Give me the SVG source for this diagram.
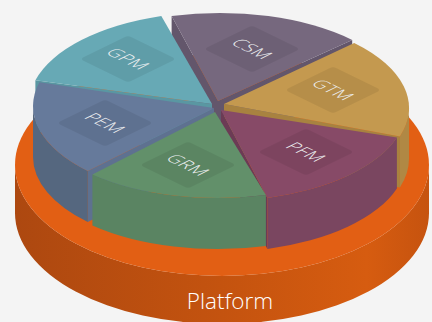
<svg xmlns="http://www.w3.org/2000/svg" width="432" height="322" viewBox="0 0 432 322">
  <defs>
    <linearGradient id="orangeSide" x1="0" y1="0" x2="1" y2="0">
      <stop offset="0" stop-color="#ad4810"/>
      <stop offset="0.5" stop-color="#c4530f"/>
      <stop offset="0.85" stop-color="#d65c10"/>
      <stop offset="1" stop-color="#c6530f"/>
    </linearGradient>
    <style>
      .lbl { font-family: "Open Sans", "Lato", sans-serif; font-weight: 300; font-size: 22.5px; letter-spacing: 0.5px; fill: #eef0f2; text-anchor: middle; }
      .panel { fill: #000; fill-opacity: 0.07; }
    </style>
  </defs>
  <rect width="432" height="322" fill="#f4f4f4"/>

  <g id="platform">
    <path d="M15 165 A207 111 0 0 0 429 165 L429 213 A207 111 0 0 1 15 213 Z" fill="url(#orangeSide)"/>
    <ellipse cx="222" cy="165" rx="207" ry="111" fill="#e25f14"/>
    <text x="230" y="309" font-family="'Open Sans', 'Lato', sans-serif" font-weight="300" font-size="22.5" fill="#ffffff" text-anchor="middle">Platform</text>
  </g>

  <g id="slice-csm">
    <path d="M218 101 L171.6 16.1 L171.6 67.1 L218 152 Z" fill="#63566b"/>
    <path d="M218 101 L352.2 39.9 L352.2 90.9 L218 152 Z" fill="#63566b"/>
    <path d="M218 101 L171.6 16.1 A187 92 0 0 1 352.2 39.9 Z" fill="#76687e"/>
    <g transform="matrix(0.707 0.346 -0.707 0.346 252 49)">
      <rect class="panel" x="-34" y="-34" width="68" height="68" rx="5"/>
      <text class="lbl" x="0" y="8">CSM</text>
    </g>
  </g>

  <g id="slice-gpm">
    <path d="M212 104 L35.4 80.2 L35.4 131.2 L212 155 Z" fill="#5a97a2"/>
    <path d="M212 104 L35.4 80.2 A187 92 0 0 1 161.3 16 Z" fill="#67a9b5"/>
    <g transform="matrix(0.707 0.346 -0.707 0.346 128 59)">
      <rect class="panel" x="-34" y="-34" width="68" height="68" rx="5"/>
      <text class="lbl" x="0" y="8">GPM</text>
    </g>
  </g>

  <g id="slice-gtm">
    <path d="M224 104 L399.9 136.4 L399.9 187.4 L224 155 Z" fill="#a88240"/>
    <path d="M409 108 A187 92 0 0 1 399.9 136.4 L399.9 187.4 A187 92 0 0 0 409 159 Z" fill="#b08844"/>
    <path d="M224 104 L354.2 42.9 A187 92 0 0 1 399.9 136.4 Z" fill="#c4994f"/>
    <g transform="matrix(0.707 0.346 -0.707 0.346 333 90)">
      <rect class="panel" x="-34" y="-34" width="68" height="68" rx="5"/>
      <text class="lbl" x="0" y="8">GTM</text>
    </g>
  </g>

  <g id="slice-pem">
    <path d="M214 108 L87.8 171.1 L87.8 222.1 L214 159 Z" fill="#5e7190"/>
    <path d="M87.8 171.1 A187 92 0 0 1 33 106 L33 157 A187 92 0 0 0 87.8 222.1 Z" fill="#55677f"/>
    <path d="M214 108 L87.8 171.1 A187 92 0 0 1 39.4 82.2 Z" fill="#667a9b"/>
    <g transform="matrix(0.707 0.346 -0.707 0.346 105 123)">
      <rect class="panel" x="-34" y="-34" width="68" height="68" rx="5"/>
      <text class="lbl" x="0" y="8">PEM</text>
    </g>
  </g>

  <g id="slice-pfm">
    <path d="M221 110 L267.4 197.9 L267.4 248.9 L221 161 Z" fill="#6c3b55"/>
    <path d="M396.9 137.4 A187 92 0 0 1 267.4 197.9 L267.4 248.9 A187 92 0 0 0 396.9 188.4 Z" fill="#7a4660"/>
    <path d="M221 110 L396.9 137.4 A187 92 0 0 1 267.4 197.9 Z" fill="#874a67"/>
    <g transform="matrix(0.707 0.346 -0.707 0.346 306 152)">
      <rect class="panel" x="-34" y="-34" width="68" height="68" rx="5"/>
      <text class="lbl" x="0" y="8">PFM</text>
    </g>
  </g>

  <g id="slice-grm">
    <path d="M265.9 194.9 A187 92 0 0 1 92.4 174.4 L92.4 225.4 A187 92 0 0 0 265.9 245.9 Z" fill="#5a8462"/>
    <path d="M215 112 L265.9 194.9 A187 92 0 0 1 92.4 174.4 Z" fill="#62906a"/>
    <g transform="matrix(0.707 0.346 -0.707 0.346 188 165)">
      <rect class="panel" x="-34" y="-34" width="68" height="68" rx="5"/>
      <text class="lbl" x="0" y="8">GRM</text>
    </g>
  </g>

  <g id="connectors"/>
</svg>
